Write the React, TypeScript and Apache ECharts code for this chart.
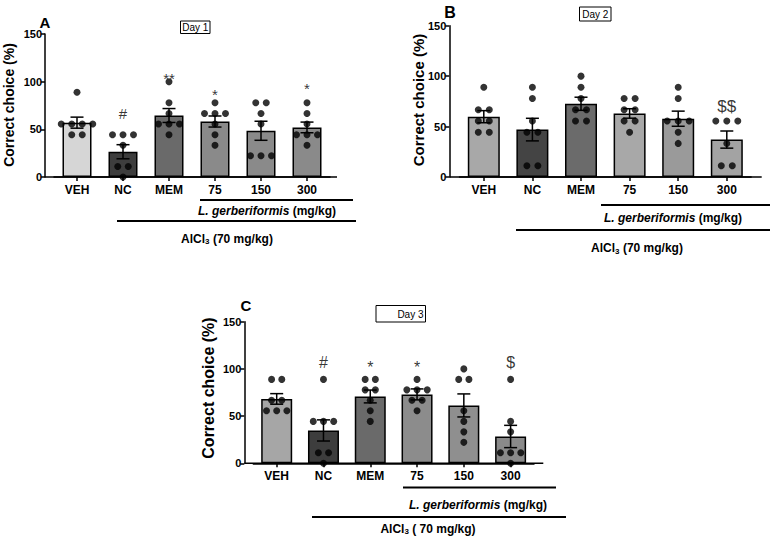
import React, { useEffect, useRef } from "react";
import * as echarts from "echarts";

const categories = ["VEH", "NC", "MEM", "75", "150", "300"];
const yTicks = [0, 50, 100, 150];

// Day 1
const dotsA = [
  [88.9, 55.6, 55.6, 55.6, 55.6, 44.4, 44.4],
  [44.4, 44.4, 44.4, 33.3, 11.1, 11.1, 0],
  [100, 77.8, 66.7, 55.6, 55.6, 55.6, 44.4],
  [77.8, 66.7, 66.7, 66.7, 55.6, 44.4, 33.3],
  [77.8, 77.8, 66.7, 55.6, 22.2, 22.2, 22.2],
  [77.8, 66.7, 55.6, 44.4, 44.4, 44.4, 33.3],
];
const meanA = [57, 26.5, 64.5, 58.2, 48.5, 52];
const semA = [5.8, 7.4, 7.3, 5.8, 10, 5.6];
const sigA = ["", "#", "**", "*", "", "*"];
const sigYA = [0, 67, 103, 87, 0, 92.5];

// Day 2
const dotsB = [
  [88.9, 66.7, 66.7, 55.6, 55.6, 44.4, 44.4],
  [88.9, 77.8, 55.6, 44.4, 44.4, 11.1, 11.1],
  [100, 88.9, 77.8, 66.7, 66.7, 55.6, 55.6],
  [77.8, 77.8, 66.7, 66.7, 55.6, 55.6, 44.4],
  [88.9, 77.8, 55.6, 55.6, 55.6, 44.4, 33.3],
  [55.6, 55.6, 55.6, 33.3, 11.1, 11.1],
];
const meanB = [59.8, 47, 72.6, 63, 57.8, 37.1];
const semB = [6, 11.2, 6.5, 4.7, 7.5, 8.5];
const sigB = ["", "", "", "", "", "$$"];
const sigYB = [0, 0, 0, 0, 0, 70];

// Day 3
const dotsC = [
  [88.9, 88.9, 66.7, 66.7, 55.6, 55.6, 55.6],
  [88.9, 44.4, 44.4, 44.4, 11.1, 11.1, 0],
  [88.9, 88.9, 77.8, 77.8, 66.7, 55.6, 44.4],
  [88.9, 77.8, 77.8, 77.8, 66.7, 66.7, 55.6],
  [100, 88.9, 88.9, 55.6, 44.4, 33.3, 22.2],
  [88.9, 44.4, 33.3, 11.1, 11.1, 11.1, 0],
];
const meanC = [68.2, 34.8, 70.8, 73, 61.3, 28.4];
const semC = [5.6, 11.2, 6.8, 5.8, 12.2, 11.8];
const sigC = ["", "#", "*", "*", "", "$"];
const sigYC = [0, 106.5, 101, 101, 0, 106.5];

const FONT = "'Liberation Sans', Arial, Helvetica, sans-serif";

type Panel = {
  dots: number[][];
  mean: number[];
  sem: number[];
  sig: string[];
  sigY: number[];
  colors: string[];
  left: number;
  top: number;
  width: number;
  height: number;
  yOffset: number;
  xEnd: number;
  barWidth: number;
  spacing: number;
  sigSizes: number;
};

const panels: Panel[] = [
  {
    dots: dotsA, mean: meanA, sem: semA, sig: sigA, sigY: sigYA,
    colors: ["#d6d6d6", "#3d3d3d", "#6a6a6a", "#8a8a8a", "#8a8a8a", "#8a8a8a"],
    left: 54, top: 34, width: 276, height: 143, yOffset: 9, xEnd: 337, barWidth: 29, spacing: 10.5, sigSizes: 15,
  },
  {
    dots: dotsB, mean: meanB, sem: semB, sig: sigB, sigY: sigYB,
    colors: ["#a8a8a8", "#444444", "#6b6b6b", "#a8a8a8", "#9a9a9a", "#a3a3a3"],
    left: 459.5, top: 25.7, width: 291.6, height: 151.3, yOffset: 10.2, xEnd: 761.7, barWidth: 32, spacing: 11, sigSizes: 17,
  },
  {
    dots: dotsC, mean: meanC, sem: semC, sig: sigC, sigY: sigYC,
    colors: ["#a6a6a6", "#3d3d3d", "#6a6a6a", "#8c8c8c", "#8f8f8f", "#8a8a8a"],
    left: 253.3, top: 321.7, width: 280.7, height: 141.6, yOffset: 9, xEnd: 543.3, barWidth: 31, spacing: 10.2, sigSizes: 16,
  },
];

function jitter(values: number[], spacing: number) {
  const counts: Record<string, number> = {};
  values.forEach((v) => (counts[String(v)] = (counts[String(v)] || 0) + 1));
  const seen: Record<string, number> = {};
  return values.map((v) => {
    const k = String(v);
    const n = counts[k];
    const idx = seen[k] || 0;
    seen[k] = idx + 1;
    return (idx - (n - 1) / 2) * spacing;
  });
}

function buildOption() {
  const grid: any[] = [];
  const xAxis: any[] = [];
  const yAxis: any[] = [];
  const series: any[] = [];
  const graphic: any[] = [];

  panels.forEach((p, gi) => {
    grid.push({ left: p.left, top: p.top, width: p.width, height: p.height, containLabel: false });
    xAxis.push({
      type: "category",
      gridIndex: gi,
      data: categories,
      axisLine: { show: true, lineStyle: { color: "#000", width: 1.5 } },
      axisTick: { show: true, alignWithLabel: true, length: 4, lineStyle: { color: "#000", width: 1.5 } },
      axisLabel: { color: "#000", fontWeight: "bold", fontSize: 12, fontFamily: FONT, margin: 7 },
    });
    yAxis.push({
      type: "value",
      gridIndex: gi,
      min: yTicks[0],
      max: yTicks[yTicks.length - 1],
      interval: yTicks[1] - yTicks[0],
      offset: p.yOffset,
      axisLine: { show: true, lineStyle: { color: "#000", width: 1.5 } },
      axisTick: { show: true, length: 4, lineStyle: { color: "#000", width: 1.5 } },
      axisLabel: { color: "#000", fontWeight: "bold", fontSize: 11, fontFamily: FONT, margin: 3 },
      splitLine: { show: false },
    });

    const y0 = p.top + p.height;
    graphic.push({
      type: "line",
      shape: { x1: p.left - p.yOffset, y1: y0, x2: p.xEnd, y2: y0 },
      style: { stroke: "#000", lineWidth: 1.5 },
      z: 100,
    });

    series.push({
      type: "bar",
      xAxisIndex: gi,
      yAxisIndex: gi,
      barWidth: p.barWidth,
      data: p.mean.map((m, i) => ({
        value: m,
        itemStyle: { color: p.colors[i], borderColor: "#000", borderWidth: 1.5 },
      })),
      z: 2,
    });

    series.push({
      type: "custom",
      xAxisIndex: gi,
      yAxisIndex: gi,
      z: 3,
      itemStyle: { color: "#000" },
      data: p.mean.map((m, i) => [i, m, p.sem[i]]),
      renderItem: (params: any, api: any) => {
        const i = api.value(0);
        const m = api.value(1);
        const s = api.value(2);
        const t = api.coord([i, m + s]);
        const b = api.coord([i, m - s]);
        const hw = 6.5;
        const st = { stroke: "#000", lineWidth: 1.5 };
        return {
          type: "group",
          children: [
            { type: "line", shape: { x1: t[0], y1: t[1], x2: b[0], y2: b[1] }, style: st },
            { type: "line", shape: { x1: t[0] - hw, y1: t[1], x2: t[0] + hw, y2: t[1] }, style: st },
            { type: "line", shape: { x1: b[0] - hw, y1: b[1], x2: b[0] + hw, y2: b[1] }, style: st },
          ],
        };
      },
    });

    const dotData: any[] = [];
    p.dots.forEach((vals, i) => {
      const offs = jitter(vals, p.spacing);
      vals.forEach((v, k) => {
        dotData.push({ value: [i, v], symbolOffset: [offs[k], 0] });
      });
    });
    series.push({
      type: "scatter",
      xAxisIndex: gi,
      yAxisIndex: gi,
      symbol: "circle",
      symbolSize: 7,
      itemStyle: { color: "#000" },
      data: dotData,
      z: 4,
    });

    const sigData: any[] = [];
    p.sig.forEach((s, i) => {
      if (s) sigData.push({ value: [i, p.sigY[i]], name: s });
    });
    series.push({
      type: "scatter",
      xAxisIndex: gi,
      yAxisIndex: gi,
      z: 5,
      symbol: "circle",
      symbolSize: 1,
      itemStyle: { color: "rgba(0,0,0,0)" },
      silent: true,
      data: sigData,
      label: {
        show: true,
        position: "inside",
        formatter: (prm: any) => prm.name,
        color: "#000",
        fontSize: p.sigSizes,
        fontFamily: FONT,
        fontWeight: "normal",
        textBorderWidth: 0,
      },
    });
  });

  const txt = (x: number, y: number, text: string, extra: any = {}) => ({
    type: "text",
    x,
    y,
    style: {
      text,
      fill: "#000",
      fontFamily: FONT,
      fontSize: 12,
      fontWeight: "bold",
      align: "center",
      verticalAlign: "middle",
      ...extra,
    },
    z: 100,
  });
  const hline = (x1: number, x2: number, y: number) => ({
    type: "line",
    shape: { x1, y1: y, x2, y2: y },
    style: { stroke: "#000", lineWidth: 1.8 },
    z: 100,
  });
  const richLG = {
    rich: {
      i: { fontStyle: "italic", fontWeight: "bold", fontSize: 12, fontFamily: FONT, fill: "#000" },
      n: { fontWeight: "bold", fontSize: 12, fontFamily: FONT, fill: "#000" },
    },
  };
  const richAl = {
    rich: {
      n: { fontWeight: "bold", fontSize: 12, fontFamily: FONT, fill: "#000" },
      s: { fontWeight: "bold", fontSize: 8, fontFamily: FONT, fill: "#000", padding: [6, 0, 0, 0] },
    },
  };

  graphic.push(txt(45, 22, "A", { fontSize: 15 }));
  graphic.push(txt(450, 12, "B", { fontSize: 16 }));
  graphic.push(txt(246, 305, "C", { fontSize: 15 }));

  const yTitle = (x: number, y: number, size: number) => ({
    type: "text",
    x,
    y,
    rotation: Math.PI / 2,
    style: {
      text: "Correct choice (%)",
      fill: "#000",
      fontFamily: FONT,
      fontSize: size,
      fontWeight: "bold",
      align: "center",
      verticalAlign: "middle",
    },
    z: 100,
  });
  graphic.push(yTitle(9, 105, 14));
  graphic.push(yTitle(418, 100, 15));
  graphic.push(yTitle(208, 388, 16));

  const dayBox = (x: number, y: number, w: number, h: number, label: string, align: string) => ({
    type: "group",
    z: 100,
    children: [
      { type: "rect", shape: { x, y, width: w, height: h }, style: { fill: "#fff", stroke: "#000", lineWidth: 1 } },
      {
        type: "text",
        x: align === "right" ? x + w - 2 : x + w / 2,
        y: y + h / 2 + 0.5,
        style: { text: label, fill: "#000", fontFamily: FONT, fontSize: 10, align, verticalAlign: "middle" },
      },
    ],
  });
  graphic.push(dayBox(180.5, 21, 29.5, 12.5, "Day 1", "center"));
  graphic.push(dayBox(579.5, 7, 31.5, 14, "Day 2", "center"));
  graphic.push(dayBox(376, 305.5, 49.5, 16.5, "Day 3", "right"));

  graphic.push(hline(200, 353, 200));
  graphic.push(txt(267, 211, "{i|L. gerberiformis}{n| (mg/kg)}", richLG));
  graphic.push(hline(117, 356, 221));
  graphic.push(txt(227, 238.5, "{n|AlCl}{s|3}{n| (70 mg/kg)}", richAl));

  graphic.push(hline(601, 770, 205));
  graphic.push(txt(673, 217.5, "{i|L. gerberiformis}{n| (mg/kg)}", richLG));
  graphic.push(hline(516, 770, 230));
  graphic.push(txt(637, 248, "{n|AlCl}{s|3}{n| (70 mg/kg)}", richAl));

  graphic.push(hline(403, 556, 487.5));
  graphic.push(txt(478, 505, "{i|L. gerberiformis}{n| (mg/kg)}", richLG));
  graphic.push(hline(312, 566, 517));
  graphic.push(txt(428, 528.5, "{n|AlCl}{s|3}{n| ( 70 mg/kg)}", richAl));

  return {
    animation: false,
    backgroundColor: "#fff",
    grid,
    xAxis,
    yAxis,
    series,
    graphic,
  };
}

export default function App() {
  const ref = useRef<HTMLDivElement>(null);
  useEffect(() => {
    if (!ref.current) return;
    const chart = echarts.init(ref.current, undefined, { renderer: "svg" });
    chart.setOption(buildOption() as any);
    return () => chart.dispose();
  }, []);
  return (
    <div
      ref={ref}
      style={{ position: "absolute", left: 0, top: 0, width: 776, height: 540, background: "#fff" }}
    />
  );
}
